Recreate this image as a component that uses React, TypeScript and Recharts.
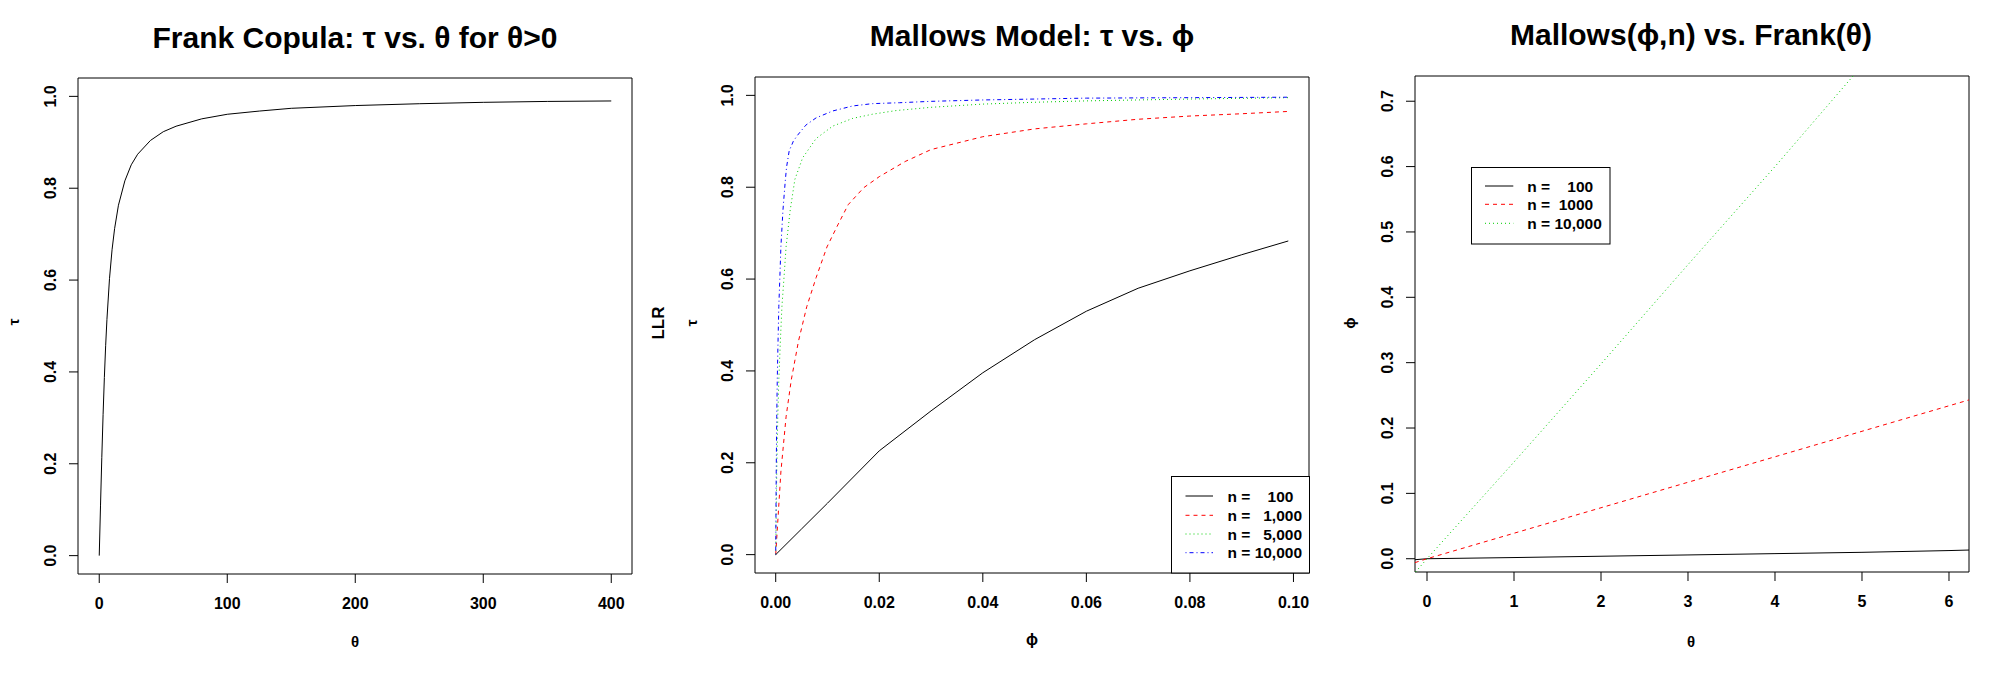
import React from 'react';
import { LineChart, Line, XAxis, YAxis, ReferenceArea } from 'recharts';

const FONT = '"Liberation Sans", Arial, Helvetica, sans-serif';

// ---- panel 1: Frank copula tau vs theta ----
const frankTheta = [0, 1, 2, 3, 4, 5, 6, 8, 10, 12, 15, 20, 25, 30, 40, 50, 60, 80, 100, 125, 150, 200, 250, 300, 350, 400];
const frankTau = [0, 0.11, 0.214, 0.307, 0.388, 0.457, 0.514, 0.603, 0.666, 0.712, 0.763, 0.816, 0.851, 0.874, 0.904, 0.923, 0.935, 0.951, 0.961, 0.968, 0.974, 0.98, 0.984, 0.987, 0.989, 0.99];
const p1XTicks = [0, 100, 200, 300, 400];
const p1YTicks = [0, 0.2, 0.4, 0.6, 0.8, 1.0];

// ---- panel 2: Mallows model tau vs phi ----
const m100Phi = [0, 0.005, 0.01, 0.02, 0.03, 0.04, 0.05, 0.06, 0.07, 0.08, 0.09, 0.099];
const m100Tau = [0, 0.056, 0.112, 0.226, 0.313, 0.396, 0.468, 0.53, 0.58, 0.618, 0.653, 0.683];
const m1000Phi = [0, 0.001, 0.002, 0.003, 0.0044, 0.006, 0.0078, 0.0099, 0.012, 0.014, 0.017, 0.02, 0.025, 0.03, 0.04, 0.05, 0.06, 0.07, 0.08, 0.09, 0.099];
const m1000Tau = [0, 0.18, 0.3, 0.38, 0.465, 0.54, 0.603, 0.67, 0.718, 0.762, 0.799, 0.823, 0.856, 0.882, 0.91, 0.927, 0.938, 0.948, 0.955, 0.96, 0.965];
const m5000Phi = [0, 0.0002, 0.0004, 0.0006, 0.0009, 0.0012, 0.0016, 0.002, 0.0028, 0.0037, 0.0052, 0.0078, 0.011, 0.0149, 0.0187, 0.0233, 0.03, 0.04, 0.05, 0.06, 0.08, 0.099];
const m5000Tau = [0, 0.18, 0.3, 0.38, 0.465, 0.54, 0.603, 0.67, 0.75, 0.817, 0.864, 0.906, 0.933, 0.95, 0.959, 0.967, 0.974, 0.981, 0.985, 0.988, 0.992, 0.995];
const m10000Phi = [0, 0.0001, 0.0002, 0.0003, 0.00045, 0.0006, 0.0008, 0.001, 0.0014, 0.00184, 0.0021, 0.0026, 0.0034, 0.0042, 0.0058, 0.0078, 0.011, 0.0149, 0.0187, 0.0239, 0.03, 0.04, 0.05, 0.06, 0.08, 0.099];
const m10000Tau = [0, 0.18, 0.3, 0.38, 0.465, 0.54, 0.603, 0.67, 0.75, 0.813, 0.844, 0.879, 0.9, 0.913, 0.935, 0.951, 0.966, 0.977, 0.982, 0.984, 0.987, 0.99, 0.992, 0.994, 0.995, 0.996];
const p2XTicks = [0, 0.02, 0.04, 0.06, 0.08, 0.1];
const p2YTicks = [0, 0.2, 0.4, 0.6, 0.8, 1.0];
const p2Labels = ['n =    100', 'n =   1,000', 'n =   5,000', 'n = 10,000'];

// ---- panel 3: Mallows(phi, n) vs Frank(theta) ----
const map100Theta = [-0.14, 0, 1, 2, 3, 4, 5, 6, 6.23];
const map100Phi = [-0.0015, 0, 0.0018, 0.0038, 0.0058, 0.0078, 0.0098, 0.0125, 0.0133];
const map1000Theta = [-0.14, 0, 1, 2, 3, 4, 5, 6, 6.23];
const map1000Phi = [-0.006, 0, 0.039, 0.078, 0.117, 0.156, 0.195, 0.234, 0.243];
const map10000Theta = [-0.13, 0, 1, 2, 3, 4, 4.9];
const map10000Phi = [-0.02, 0, 0.148, 0.298, 0.45, 0.6, 0.739];
const p3XTicks = [0, 1, 2, 3, 4, 5, 6];
const p3YTicks = [0, 0.1, 0.2, 0.3, 0.4, 0.5, 0.6, 0.7];
const p3Labels = ['n =    100', 'n =  1000', 'n = 10,000'];

const toPoints = (xs: number[], ys: number[]) => xs.map((x, i) => ({ x, y: ys[i] }));

interface Series {
  name: string;
  color: string;
  dash?: string;
  points: { x: number; y: number }[];
}

interface PanelProps {
  left: number;
  width: number;
  margin: { top: number; right: number; bottom: number; left: number };
  xDomain: [number, number];
  yDomain: [number, number];
  xTicks: number[];
  yTicks: number[];
  xDigits: number;
  yDigits: number;
  series: Series[];
}

const XTick = (props: any) => (
  <text x={props.x} y={props.y} textAnchor="middle" dominantBaseline="central"
    fontFamily={FONT} fontWeight="bold" fontSize={16} fill="#000">
    {Number(props.payload.value).toFixed(props.digits)}
  </text>
);

const YTick = (props: any) => (
  <text x={props.x} y={props.y} textAnchor="middle" dominantBaseline="central"
    transform={`rotate(-90 ${props.x} ${props.y})`}
    fontFamily={FONT} fontWeight="bold" fontSize={16} fill="#000">
    {Number(props.payload.value).toFixed(props.digits)}
  </text>
);

const Panel: React.FC<PanelProps> = (p) => (
  <div style={{ position: 'absolute', left: p.left, top: 0 }}>
    <LineChart width={p.width} height={680} margin={p.margin}>
      <XAxis dataKey="x" type="number" domain={p.xDomain} ticks={p.xTicks} allowDataOverflow
        height={40} axisLine={false} tickSize={9} tickMargin={20}
        tickLine={{ stroke: '#000', strokeWidth: 1 }}
        tick={(t: any) => <XTick {...t} digits={p.xDigits} />} interval={0} />
      <YAxis type="number" domain={p.yDomain} ticks={p.yTicks} allowDataOverflow
        width={60} axisLine={false} tickSize={9} tickMargin={18}
        tickLine={{ stroke: '#000', strokeWidth: 1 }}
        tick={(t: any) => <YTick {...t} digits={p.yDigits} />} interval={0} />
      <ReferenceArea x1={p.xDomain[0]} x2={p.xDomain[1]} y1={p.yDomain[0]} y2={p.yDomain[1]}
        fill="none" fillOpacity={0} stroke="#000" strokeWidth={1} ifOverflow="visible" />
      {p.series.map((s) => (
        <Line key={s.name} data={s.points} dataKey="y" name={s.name} type="linear"
          stroke={s.color} strokeWidth={1} strokeDasharray={s.dash} dot={false}
          activeDot={false} isAnimationActive={false} />
      ))}
    </LineChart>
  </div>
);

const Txt: React.FC<{ x: number; y: number; size: number; rotate?: boolean; children: React.ReactNode }> = ({ x, y, size, rotate, children }) => (
  <div style={{
    position: 'absolute', left: x, top: y,
    transform: `translate(-50%, -50%)${rotate ? ' rotate(-90deg)' : ''}`,
    fontFamily: FONT, fontSize: size, fontWeight: 'bold', lineHeight: 1,
    whiteSpace: 'nowrap', color: '#000',
  }}>{children}</div>
);

const LegendBox: React.FC<{ left: number; top: number; width: number; height: number; rows: number[]; sx1: number; sx2: number; tx: number; series: Series[]; labels: string[] }> = (l) => (
  <svg style={{ position: 'absolute', left: l.left, top: l.top, overflow: 'visible' }} width={l.width} height={l.height}>
    <rect x={0.5} y={0.5} width={l.width - 1} height={l.height - 1} fill="#fff" stroke="#000" strokeWidth={1} />
    {l.series.map((s, i) => (
      <g key={s.name}>
        <line x1={l.sx1} x2={l.sx2} y1={l.rows[i]} y2={l.rows[i]} stroke={s.color} strokeWidth={1} strokeDasharray={s.dash} />
        <text x={l.tx} y={l.rows[i]} dominantBaseline="central" fontFamily={FONT} fontWeight="bold"
          fontSize={15.5} fill="#000" style={{ whiteSpace: 'pre' }}>{l.labels[i]}</text>
      </g>
    ))}
  </svg>
);

const p1Series: Series[] = [
  { name: 'frank', color: '#000000', points: toPoints(frankTheta, frankTau) },
];

const p2Series: Series[] = [
  { name: 'n100', color: '#000000', points: toPoints(m100Phi, m100Tau) },
  { name: 'n1000', color: '#FF0000', dash: '4 4', points: toPoints(m1000Phi, m1000Tau) },
  { name: 'n5000', color: '#00CD00', dash: '1 3', points: toPoints(m5000Phi, m5000Tau) },
  { name: 'n10000', color: '#0000FF', dash: '1 3 4 3', points: toPoints(m10000Phi, m10000Tau) },
];

const p3Series: Series[] = [
  { name: 'n100', color: '#000000', points: toPoints(map100Theta, map100Phi) },
  { name: 'n1000', color: '#FF0000', dash: '4 4', points: toPoints(map1000Theta, map1000Phi) },
  { name: 'n10000', color: '#00CD00', dash: '1 3', points: toPoints(map10000Theta, map10000Phi) },
];

export default function App() {
  return (
    <div style={{ position: 'absolute', left: 0, top: 0, width: 1999, height: 680, background: '#fff' }}>
      <Panel left={0} width={666} margin={{ top: 78, right: 34, bottom: 66, left: 18 }}
        xDomain={[-16.6, 416.2]} yDomain={[-0.04, 1.04]} xTicks={p1XTicks} yTicks={p1YTicks}
        xDigits={0} yDigits={1} series={p1Series} />
      <Panel left={666} width={666} margin={{ top: 77, right: 23, bottom: 67, left: 29 }}
        xDomain={[-0.004, 0.103]} yDomain={[-0.04, 1.04]} xTicks={p2XTicks} yTicks={p2YTicks}
        xDigits={2} yDigits={1} series={p2Series} />
      <Panel left={1332} width={667} margin={{ top: 76, right: 30, bottom: 68, left: 23 }}
        xDomain={[-0.138, 6.23]} yDomain={[-0.0203, 0.7386]} xTicks={p3XTicks} yTicks={p3YTicks}
        xDigits={0} yDigits={1} series={p3Series} />

      <Txt x={355} y={38} size={30}>Frank Copula: τ vs. θ for θ&gt;0</Txt>
      <Txt x={1032} y={36} size={30}>Mallows Model: τ vs. ϕ</Txt>
      <Txt x={1691} y={35} size={30}>Mallows(ϕ,n) vs. Frank(θ)</Txt>

      <Txt x={355} y={641} size={15}>θ</Txt>
      <Txt x={1032} y={640} size={16}>ϕ</Txt>
      <Txt x={1691} y={641} size={15}>θ</Txt>

      <Txt x={13} y={322} size={15} rotate>τ</Txt>
      <Txt x={658} y={323} size={17} rotate>LLR</Txt>
      <Txt x={691} y={323} size={15} rotate>τ</Txt>
      <Txt x={1349} y={323} size={15} rotate>ϕ</Txt>

      <LegendBox left={1170.5} top={476} width={139} height={97.5} rows={[20, 39.3, 58, 76.7]}
        sx1={14.5} sx2={42} tx={56.5} series={p2Series} labels={p2Labels} />
      <LegendBox left={1471} top={167} width={139.5} height={77.5} rows={[19, 37.3, 56.3]}
        sx1={14} sx2={42.3} tx={56.3} series={p3Series} labels={p3Labels} />
    </div>
  );
}
